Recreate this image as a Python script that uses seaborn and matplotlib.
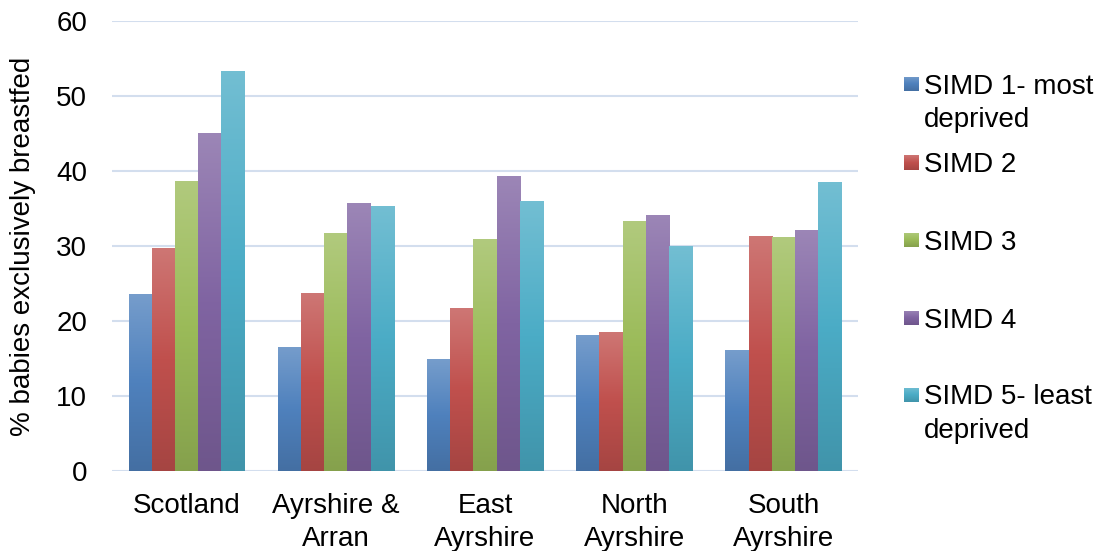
import numpy as np
import pandas as pd
import matplotlib
matplotlib.use("Agg")
import matplotlib.pyplot as plt
import matplotlib.colors as mcolors
import seaborn as sns

# ---- data ----
areas = ["Scotland", "Ayrshire &\nArran", "East\nAyrshire", "North\nAyrshire", "South\nAyrshire"]
groups = ["SIMD 1- most\ndeprived", "SIMD 2", "SIMD 3", "SIMD 4", "SIMD 5- least\ndeprived"]
simd1 = [23.6, 16.6, 14.9, 18.1, 16.1]
simd2 = [29.8, 23.7, 21.7, 18.5, 31.3]
simd3 = [38.7, 31.7, 30.9, 33.3, 31.2]
simd4 = [45.1, 35.7, 39.4, 34.2, 32.2]
simd5 = [53.4, 35.3, 36.0, 30.0, 38.5]
colors = ["#4F81BD", "#C0504D", "#9BBB59", "#8064A2", "#4BACC6"]
yticks = [0, 10, 20, 30, 40, 50, 60]

df = pd.DataFrame({
    "area": areas * 5,
    "group": sum([[g] * len(areas) for g in groups], []),
    "value": simd1 + simd2 + simd3 + simd4 + simd5,
})

sns.set_theme(style="white")
plt.rcParams["font.family"] = ["Liberation Sans", "DejaVu Sans"]
FS = 20

fig = plt.figure(figsize=(10.99, 5.51), dpi=100)
W, H = 1099, 551
ax = fig.add_axes([112 / W, (H - 471) / H, 746 / W, 450 / H])

sns.barplot(data=df, x="area", y="value", hue="group", order=areas,
            hue_order=groups, palette=colors, width=0.778, ax=ax,
            legend=False, saturation=1, linewidth=0)


def grad_cmap(c):
    r = np.array(mcolors.to_rgb(c))
    top = r + (1 - r) * 0.22
    bot = r * 0.86
    return mcolors.LinearSegmentedColormap.from_list("g", [bot, r, top])


grad = np.linspace(0, 1, 256).reshape(-1, 1)
for i, cont in enumerate(ax.containers):
    cmap = grad_cmap(colors[i])
    for p in cont.patches:
        x0, y0 = p.get_x(), p.get_y()
        w, h = p.get_width(), p.get_height()
        im = ax.imshow(grad, cmap=cmap, aspect="auto", origin="lower",
                       extent=[x0, x0 + w, y0, y0 + h], zorder=p.get_zorder(),
                       interpolation="bilinear")
        im.set_clip_path(p)
        p.set_facecolor("none")

ax.set_xlim(-0.5, len(areas) - 0.5)
ax.set_ylim(0, 60)
ax.set_yticks(yticks)
ax.set_yticklabels([str(t) for t in yticks])
ax.grid(axis="y", color="#D3DEEE", linewidth=1.5)
ax.set_axisbelow(True)
for s in ax.spines.values():
    s.set_visible(False)
ax.tick_params(axis="y", length=0, pad=18, labelsize=FS, labelcolor="black")
ax.tick_params(axis="x", length=0, pad=15.5, labelsize=FS, labelcolor="black")
for t in ax.get_xticklabels():
    t.set_linespacing(1.38)
ax.set_xlabel("")
ax.set_ylabel("% babies exclusively breastfed", fontsize=FS, color="black")
ax.yaxis.set_label_coords((36 - 112) / 746, 0.5)

# legend (drawn manually so handles align with the first text line)
leg_y = [84, 162.5, 240, 318, 395]
for i, (g, yc) in enumerate(zip(groups, leg_y)):
    cmap = grad_cmap(colors[i])
    lx0, lx1 = 904 / W, 919 / W
    ly0, ly1 = (H - yc - 7.5) / H, (H - yc + 7.5) / H
    fax = fig.add_axes([lx0, ly0, lx1 - lx0, ly1 - ly0])
    fax.imshow(grad, cmap=cmap, aspect="auto", origin="lower")
    fax.axis("off")
    fig.text(924 / W, (H - yc + 10.5) / H, g, fontsize=FS, va="top",
             ha="left", linespacing=1.38, color="black")

fig.savefig("out.png", dpi=100)
